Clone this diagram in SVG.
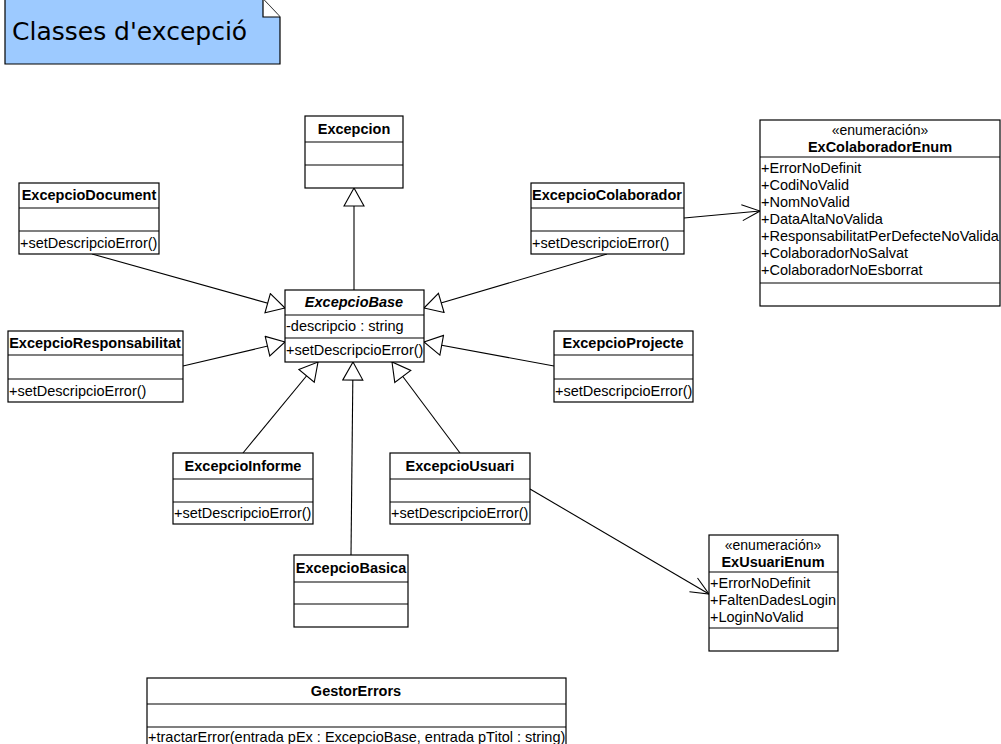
<svg xmlns="http://www.w3.org/2000/svg" width="1001" height="744" viewBox="0 0 1001 744">
  <style>
    .box { fill: #ffffff; stroke: #000000; stroke-width: 1.2; }
    .sep { stroke: #000000; stroke-width: 1.2; }
    .t { font-family: "Liberation Sans", Arial, sans-serif; font-size: 14.5px; fill: #000000; }
    .h { font-weight: bold; text-anchor: middle; }
    .st { text-anchor: middle; font-size: 14px; }
    .edge { fill: none; stroke: #000000; stroke-width: 1.1; }
    .title { font-family: "DejaVu Sans", Verdana, sans-serif; font-size: 25px; fill: #000000; }
  </style>
  <defs>
    <marker id="gen" viewBox="0 0 20 22" refX="19" refY="11" markerWidth="20" markerHeight="22" markerUnits="userSpaceOnUse" orient="auto">
      <path d="M1,1 L19,11 L1,21 Z" fill="#ffffff" stroke="#000000" stroke-width="1.1"/>
    </marker>
    <marker id="open" viewBox="0 0 20 20" refX="19" refY="10" markerWidth="20" markerHeight="20" markerUnits="userSpaceOnUse" orient="auto">
      <path d="M1,2 L19,10 L1,18" fill="none" stroke="#000000" stroke-width="1.1"/>
    </marker>
  </defs>

  <rect width="1001" height="744" fill="#ffffff"/>

  <!-- title note -->
  <g id="note">
    <path d="M5,-1 L263,-1 L280,17 L280,64 L5,64 Z" fill="#9dcaff" stroke="#000000" stroke-width="1.2"/>
    <path d="M263,-1 L263,17 L280,17" fill="#ffffff" stroke="#000000" stroke-width="1.2"/>
    <text class="title" x="12" y="40">Classes d'excepció</text>
  </g>

  <!-- connectors -->
  <g id="connectors">
    <line class="edge" x1="354" y1="290" x2="354" y2="188" marker-end="url(#gen)"/>
    <line class="edge" x1="92" y1="254" x2="285" y2="308" marker-end="url(#gen)"/>
    <line class="edge" x1="607" y1="254" x2="424" y2="308" marker-end="url(#gen)"/>
    <line class="edge" x1="183" y1="366" x2="285" y2="342" marker-end="url(#gen)"/>
    <line class="edge" x1="554" y1="366" x2="424" y2="342" marker-end="url(#gen)"/>
    <line class="edge" x1="243" y1="453" x2="318" y2="362" marker-end="url(#gen)"/>
    <line class="edge" x1="351" y1="555" x2="353" y2="362" marker-end="url(#gen)"/>
    <line class="edge" x1="460" y1="453" x2="392" y2="362" marker-end="url(#gen)"/>
    <line class="edge" x1="684" y1="218" x2="760" y2="211" marker-end="url(#open)"/>
    <line class="edge" x1="530" y1="489" x2="709" y2="594" marker-end="url(#open)"/>
  </g>

  <!-- Excepcion -->
  <g id="Excepcion">
    <rect class="box" x="305" y="116" width="98" height="72"/>
    <line class="sep" x1="305" y1="142" x2="403" y2="142"/>
    <line class="sep" x1="305" y1="165" x2="403" y2="165"/>
    <text class="t h" x="354" y="134">Excepcion</text>
  </g>

  <!-- ExcepcioDocument -->
  <g id="ExcepcioDocument">
    <rect class="box" x="19" y="183" width="140" height="71"/>
    <line class="sep" x1="19" y1="208" x2="159" y2="208"/>
    <line class="sep" x1="19" y1="231" x2="159" y2="231"/>
    <text class="t h" x="89" y="200">ExcepcioDocument</text>
    <text class="t" x="20" y="248">+setDescripcioError()</text>
  </g>

  <!-- ExcepcioColaborador -->
  <g id="ExcepcioColaborador">
    <rect class="box" x="531" y="183" width="153" height="71"/>
    <line class="sep" x1="531" y1="208" x2="684" y2="208"/>
    <line class="sep" x1="531" y1="231" x2="684" y2="231"/>
    <text class="t h" x="607" y="200">ExcepcioColaborador</text>
    <text class="t" x="532" y="248">+setDescripcioError()</text>
  </g>

  <!-- ExColaboradorEnum -->
  <g id="ExColaboradorEnum">
    <rect class="box" x="760" y="120" width="240" height="186"/>
    <line class="sep" x1="760" y1="157" x2="1000" y2="157"/>
    <line class="sep" x1="760" y1="283" x2="1000" y2="283"/>
    <text class="t st" x="880" y="135">«enumeración»</text>
    <text class="t h" x="880" y="152">ExColaboradorEnum</text>
    <text class="t" x="761" y="173">+ErrorNoDefinit</text>
    <text class="t" x="761" y="190">+CodiNoValid</text>
    <text class="t" x="761" y="207">+NomNoValid</text>
    <text class="t" x="761" y="224">+DataAltaNoValida</text>
    <text class="t" x="761" y="241">+ResponsabilitatPerDefecteNoValida</text>
    <text class="t" x="761" y="258">+ColaboradorNoSalvat</text>
    <text class="t" x="761" y="275">+ColaboradorNoEsborrat</text>
  </g>

  <!-- ExcepcioBase -->
  <g id="ExcepcioBase">
    <rect class="box" x="285" y="290" width="139" height="72"/>
    <line class="sep" x1="285" y1="315" x2="424" y2="315"/>
    <line class="sep" x1="285" y1="338" x2="424" y2="338"/>
    <text class="t h" x="354" y="307" font-style="italic">ExcepcioBase</text>
    <text class="t" x="286" y="331">-descripcio : string</text>
    <text class="t" x="286" y="355">+setDescripcioError()</text>
  </g>

  <!-- ExcepcioResponsabilitat -->
  <g id="ExcepcioResponsabilitat">
    <rect class="box" x="8" y="331" width="175" height="71"/>
    <line class="sep" x1="8" y1="355" x2="183" y2="355"/>
    <line class="sep" x1="8" y1="379" x2="183" y2="379"/>
    <text class="t h" x="95" y="348">ExcepcioResponsabilitat</text>
    <text class="t" x="9" y="396">+setDescripcioError()</text>
  </g>

  <!-- ExcepcioProjecte -->
  <g id="ExcepcioProjecte">
    <rect class="box" x="554" y="331" width="139" height="71"/>
    <line class="sep" x1="554" y1="355" x2="693" y2="355"/>
    <line class="sep" x1="554" y1="379" x2="693" y2="379"/>
    <text class="t h" x="623" y="348">ExcepcioProjecte</text>
    <text class="t" x="555" y="396">+setDescripcioError()</text>
  </g>

  <!-- ExcepcioInforme -->
  <g id="ExcepcioInforme">
    <rect class="box" x="173" y="453" width="140" height="71"/>
    <line class="sep" x1="173" y1="479" x2="313" y2="479"/>
    <line class="sep" x1="173" y1="502" x2="313" y2="502"/>
    <text class="t h" x="243" y="471">ExcepcioInforme</text>
    <text class="t" x="174" y="518">+setDescripcioError()</text>
  </g>

  <!-- ExcepcioUsuari -->
  <g id="ExcepcioUsuari">
    <rect class="box" x="390" y="453" width="140" height="71"/>
    <line class="sep" x1="390" y1="479" x2="530" y2="479"/>
    <line class="sep" x1="390" y1="502" x2="530" y2="502"/>
    <text class="t h" x="460" y="471">ExcepcioUsuari</text>
    <text class="t" x="391" y="518">+setDescripcioError()</text>
  </g>

  <!-- ExcepcioBasica -->
  <g id="ExcepcioBasica">
    <rect class="box" x="294" y="555" width="114" height="72"/>
    <line class="sep" x1="294" y1="582" x2="408" y2="582"/>
    <line class="sep" x1="294" y1="604" x2="408" y2="604"/>
    <text class="t h" x="351" y="573">ExcepcioBasica</text>
  </g>

  <!-- ExUsuariEnum -->
  <g id="ExUsuariEnum">
    <rect class="box" x="709" y="535" width="129" height="116"/>
    <line class="sep" x1="709" y1="572" x2="838" y2="572"/>
    <line class="sep" x1="709" y1="628" x2="838" y2="628"/>
    <text class="t st" x="773" y="550">«enumeración»</text>
    <text class="t h" x="773" y="567">ExUsuariEnum</text>
    <text class="t" x="710" y="588">+ErrorNoDefinit</text>
    <text class="t" x="710" y="605">+FaltenDadesLogin</text>
    <text class="t" x="710" y="622">+LoginNoValid</text>
  </g>

  <!-- GestorErrors -->
  <g id="GestorErrors">
    <rect class="box" x="147" y="678" width="419" height="80"/>
    <line class="sep" x1="147" y1="704" x2="566" y2="704"/>
    <line class="sep" x1="147" y1="727" x2="566" y2="727"/>
    <text class="t h" x="356" y="696">GestorErrors</text>
    <text class="t" x="148" y="742">+tractarError(entrada pEx : ExcepcioBase, entrada pTitol : string)</text>
  </g>
</svg>
